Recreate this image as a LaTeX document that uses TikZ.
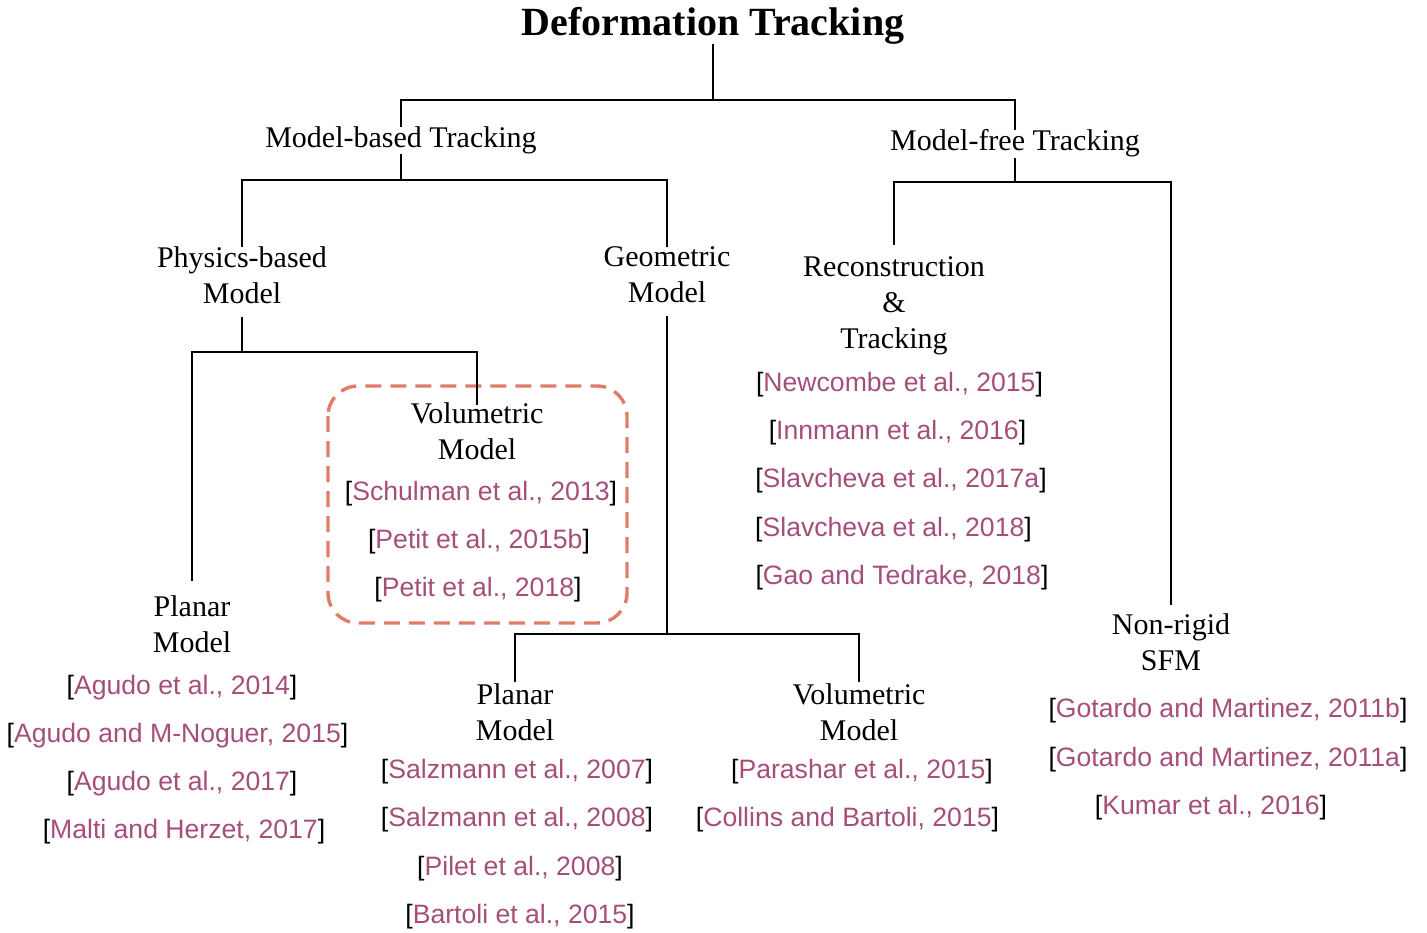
\documentclass[tikz,border=0pt]{standalone}
\usepackage{fontspec}
\setmainfont{Liberation Serif}
\newfontfamily\citefont{Liberation Sans}
\definecolor{citc}{RGB}{166,78,122}
\definecolor{boxc}{RGB}{224,125,104}
\newcommand{\mycit}[1]{[\textcolor{citc}{#1}]}
\begin{document}
\begin{tikzpicture}[x=1pt,y=-1pt,
  titlebox/.style={inner sep=0pt, anchor=base, font=\bfseries\fontsize{40}{48}\selectfont},
  lab/.style={inner sep=0pt, align=center, anchor=north, font=\fontsize{30}{36}\selectfont},
  cite/.style={inner sep=0pt, anchor=base, font=\citefont\fontsize{26.6}{31}\selectfont},
  edge/.style={line width=2.4pt, black},
  dashbox/.style={draw=boxc, line width=3.4pt, dash pattern=on 16pt off 9pt, rounded corners=30pt}]
\useasboundingbox (0,0) rectangle (1427,932);

% dashed box
\draw[dashbox] (328,386) rectangle (627,623);

% labels
\node[titlebox] (t) at (713,35) {Deformation Tracking};
\node[lab] (mb) at (401,126.5) {Model-based Tracking};
\node[lab] (mf) at (1015,129.5) {Model-free Tracking};
\node[lab] (pb) at (242,246.5) {Physics-based\\Model};
\node[lab] (gm) at (667,246.5) {Geometric\\Model};
\node[lab] (rc) at (894,256.5) {Reconstruction\\\&\\Tracking};
\node[lab] (nr) at (1171,613.5) {Non-rigid\\SFM};
\node[lab] (pl) at (192,595.5) {Planar\\Model};
\node[lab] (vb) at (477,402.5) {Volumetric\\Model};
\node[lab] (pg) at (515,683.5) {Planar\\Model};
\node[lab] (vg) at (859,683.5) {Volumetric\\Model};

% junctions
\coordinate (j0) at (713,100);
\coordinate (j1) at (401,180);
\coordinate (j2) at (242,352);
\coordinate (j3) at (667,634);
\coordinate (j4) at (1015,182);

% connectors
\draw[edge] (t.south) -- (j0);
\draw[edge] (mb.north) |- (j0) -| (mf.north);
\draw[edge] (mb.south) -- (j1);
\draw[edge] (pb.north) |- (j1) -| (gm.north);
\draw[edge] ([yshift=-13pt]pb.south) -- (j2);
\draw[edge] ([yshift=15pt]pl.north) |- (j2) -| ([yshift=-2pt]vb.north);
\draw[edge] ([yshift=-13pt]gm.south) -- (j3);
\draw[edge] ([yshift=1.5pt]pg.north) |- (j3) -| ([yshift=1.5pt]vg.north);
\draw[edge] (mf.south) -- (j4);
\draw[edge] ([yshift=11.5pt]rc.north) |- (j4) -| ([yshift=8.5pt]nr.north);

% citations: physics planar
\node[cite] (a1) at (182,694) {\mycit{Agudo et al., 2014}};
\node[cite] (a2) at (177.5,742) {\mycit{Agudo and M-Noguer, 2015}};
\node[cite] (a3) at (182,790) {\mycit{Agudo et al., 2017}};
\node[cite] (a4) at (184,838) {\mycit{Malti and Herzet, 2017}};
% physics volumetric
\node[cite] (b1) at (481,500) {\mycit{Schulman et al., 2013}};
\node[cite] (b2) at (479,548) {\mycit{Petit et al., 2015b}};
\node[cite] (b3) at (478,596) {\mycit{Petit et al., 2018}};
% reconstruction
\node[cite] (r1) at (899.5,391) {\mycit{Newcombe et al., 2015}};
\node[cite] (r2) at (897.5,439) {\mycit{Innmann et al., 2016}};
\node[cite] (r3) at (901,487) {\mycit{Slavcheva et al., 2017a}};
\node[cite] (r4) at (893.5,536) {\mycit{Slavcheva et al., 2018}};
\node[cite] (r5) at (902,584) {\mycit{Gao and Tedrake, 2018}};
% non-rigid
\node[cite] (n1) at (1228,717) {\mycit{Gotardo and Martinez, 2011b}};
\node[cite] (n2) at (1228,766) {\mycit{Gotardo and Martinez, 2011a}};
\node[cite] (n3) at (1211,814) {\mycit{Kumar et al., 2016}};
% geometric planar
\node[cite] (g1) at (517,778) {\mycit{Salzmann et al., 2007}};
\node[cite] (g2) at (517,826) {\mycit{Salzmann et al., 2008}};
\node[cite] (g3) at (520,875) {\mycit{Pilet et al., 2008}};
\node[cite] (g4) at (520,923) {\mycit{Bartoli et al., 2015}};
% geometric volumetric
\node[cite] (v1) at (862,778) {\mycit{Parashar et al., 2015}};
\node[cite] (v2) at (847.5,826) {\mycit{Collins and Bartoli, 2015}};
\end{tikzpicture}
\end{document}
